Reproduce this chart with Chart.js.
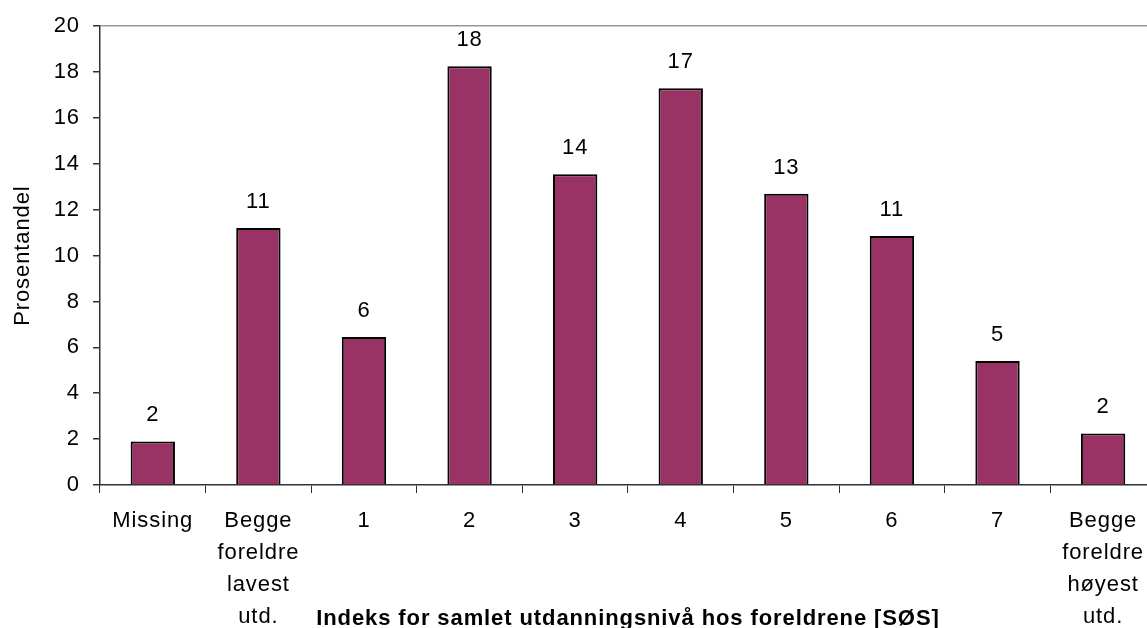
<!DOCTYPE html>
<html>
<head>
<meta charset="utf-8">
<script src="https://cdn.jsdelivr.net/npm/chart.js@4/dist/chart.umd.min.js"></script>
<style>
  html, body { margin: 0; padding: 0; background: #fff; overflow: hidden; }
  /* plot runs a few px past the right edge of the window, as in the original */
  #wrap { width: 1156px; height: 628px; }
</style>
</head>
<body>
<div id="wrap"><canvas id="chart"></canvas></div>
<script>
// Categories (multi-line labels) and percentages
const categories = [
  'Missing',
  ['Begge', 'foreldre', 'lavest', 'utd.'],
  '1', '2', '3', '4', '5', '6', '7',
  ['Begge', 'foreldre', 'høyest', 'utd.'],
];
const shares = [1.9, 11.2, 6.45, 18.25, 13.55, 17.3, 12.7, 10.85, 5.4, 2.25];
const yTicksMax = 20;
const yStep = 2;

const xTitle = 'Indeks for samlet utdanningsnivå hos foreldrene [SØS]';
const yTitle = 'Prosentandel';

const FONT = "'Liberation Sans', Arial, sans-serif";
const SIZE = 22;
const SPACING = '0.9px';

// Widen glyph spacing a bit, the original text is set loose
const spacingPlugin = {
  id: 'spacing',
  beforeUpdate(chart) { chart.ctx.letterSpacing = SPACING; },
  beforeDraw(chart) { chart.ctx.letterSpacing = SPACING; },
};

// Rounded value above each bar
const valueLabels = {
  id: 'valueLabels',
  afterDatasetsDraw(chart) {
    const ctx = chart.ctx;
    const meta = chart.getDatasetMeta(0);
    ctx.save();
    ctx.font = `${SIZE}px ${FONT}`;
    ctx.fillStyle = '#000';
    ctx.textAlign = 'center';
    ctx.textBaseline = 'alphabetic';
    meta.data.forEach((bar, i) => {
      ctx.fillText(String(Math.round(shares[i])), bar.x, bar.y - 20);
    });
    ctx.restore();
  },
};

// x title sits on the same row as the last line of the category labels
const xTitlePlugin = {
  id: 'xTitle',
  afterDraw(chart) {
    const ctx = chart.ctx;
    const area = chart.chartArea;
    ctx.save();
    ctx.font = `bold ${SIZE}px ${FONT}`;
    ctx.fillStyle = '#000';
    ctx.textAlign = 'center';
    ctx.textBaseline = 'middle';
    ctx.fillText(xTitle, (area.left + area.right) / 2, chart.scales.x.bottom - 9);
    ctx.restore();
  },
};

new Chart(document.getElementById('chart'), {
  type: 'bar',
  data: {
    labels: categories,
    datasets: [{
      data: shares,
      backgroundColor: '#993366',
      borderColor: '#000',
      borderWidth: 2,
      borderSkipped: 'bottom',
      barPercentage: 0.42,
      categoryPercentage: 1,
    }],
  },
  options: {
    responsive: true,
    maintainAspectRatio: false,
    animation: false,
    layout: {
      padding: { top: 25, right: 0, bottom: 0, left: 0 },
    },
    plugins: {
      legend: { display: false },
      tooltip: { enabled: false },
    },
    scales: {
      x: {
        afterFit(scale) { scale.height = 143; },
        grid: {
          offset: true,
          drawOnChartArea: false,
          tickLength: 8,
          color: '#333',
        },
        border: { color: '#333', width: 1.5 },
        ticks: {
          color: '#000',
          padding: 12,
          maxRotation: 0,
          autoSkip: false,
          font: { family: FONT, size: SIZE, lineHeight: 1.46 },
        },
      },
      y: {
        min: 0,
        max: yTicksMax,
        afterFit(scale) { scale.width = 100; },
        grid: {
          color: ctx => (ctx.tick && ctx.tick.value === yTicksMax ? '#999' : 'transparent'),
          tickColor: '#333',
          tickLength: 7,
          lineWidth: 1.5,
        },
        border: { color: '#333', width: 1.5 },
        ticks: {
          stepSize: yStep,
          color: '#000',
          padding: 13,
          font: { family: FONT, size: SIZE },
        },
        title: {
          display: true,
          text: yTitle,
          color: '#000',
          padding: { top: 10, bottom: 0 },
          font: { family: FONT, size: SIZE },
        },
      },
    },
  },
  plugins: [spacingPlugin, valueLabels, xTitlePlugin],
});
</script>
</body>
</html>
